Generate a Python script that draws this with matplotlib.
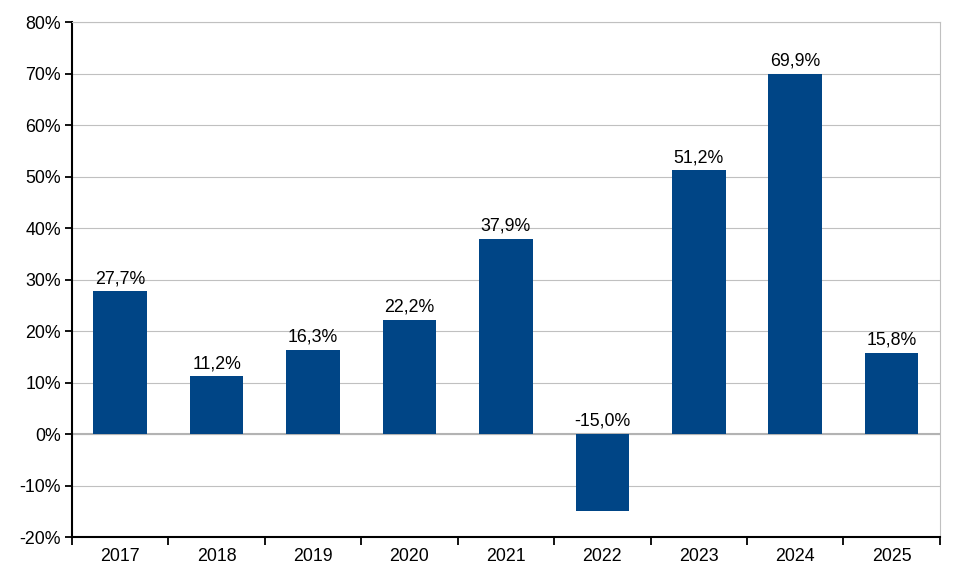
import numpy as np
import matplotlib.pyplot as plt
from matplotlib.ticker import FixedLocator

years = ["2017", "2018", "2019", "2020", "2021", "2022", "2023", "2024", "2025"]
values = [27.7, 11.2, 16.3, 22.2, 37.9, -15.0, 51.2, 69.9, 15.8]

bar_blue = "#004586"
grid_grey = "#c0c0c0"

plt.rcParams["font.family"] = ["Liberation Sans", "DejaVu Sans"]

fig = plt.figure(figsize=(9.6, 5.79), dpi=100)
ax = fig.add_axes([0.075, 0.0725, 0.904, 0.8895])

ind = np.arange(len(years))
ax.bar(ind, values, width=0.555, color=bar_blue, zorder=3)

for ii in range(len(values)):
    yl = max(values[ii], 0)
    ax.annotate(("%.1f" % values[ii]).replace(".", ",") + "%", (ind[ii], yl),
                xytext=(0, 3), textcoords="offset points",
                ha="center", va="bottom", fontsize=12.8, zorder=4)
# end for

ax.set_xlim(-0.5, len(years) - 0.5)
ax.set_ylim(-20, 80)
ax.set_yticks(np.arange(-20, 81, 10))
ax.set_yticklabels(["%d%%" % v for v in np.arange(-20, 81, 10)], fontsize=12.8)
ax.yaxis.grid(True, color=grid_grey, linewidth=0.8, zorder=0)
ax.axhline(0, color="#b3b3b3", linewidth=1.5, zorder=2)

ax.set_xticks(ind)
ax.set_xticklabels(years, fontsize=12.8)
ax.tick_params(axis="x", which="major", length=0, pad=8)
ax.xaxis.set_minor_locator(FixedLocator(np.arange(-0.5, len(years), 1.0)))
ax.tick_params(axis="x", which="minor", length=6, width=1.3, color="black")
ax.tick_params(axis="y", length=5, width=1.3, color="black", pad=3)

for side in ["left", "bottom"]:
    ax.spines[side].set_color("black")
    ax.spines[side].set_linewidth(1.5)
# end for
ax.spines["right"].set_color(grid_grey)
ax.spines["right"].set_linewidth(0.8)
ax.spines["top"].set_color(grid_grey)
ax.spines["top"].set_linewidth(0.8)

plt.savefig("out.png", dpi=100)
plt.close()
